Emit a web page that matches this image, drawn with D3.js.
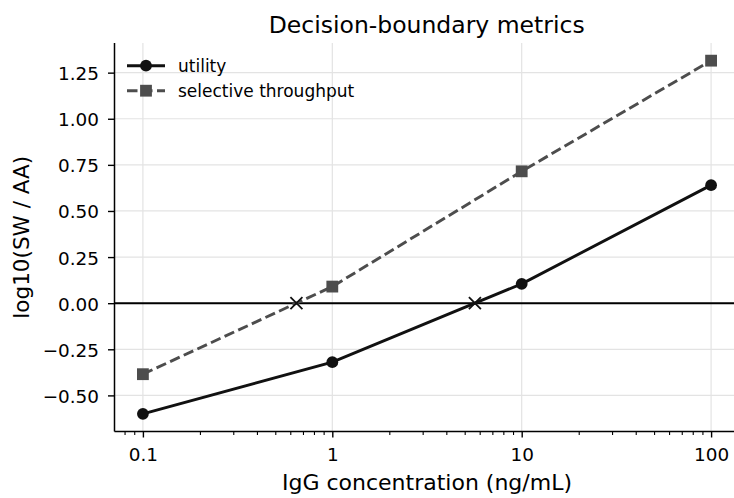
<!DOCTYPE html>
<html>
<head>
<meta charset="utf-8">
<script src="https://cdn.jsdelivr.net/npm/d3@7"></script>
<style>
  html, body { margin: 0; padding: 0; background: #fff; }
  svg { display: block; font-family: "DejaVu Sans", sans-serif; }
</style>
</head>
<body>
<svg id="chart" width="734" height="498"></svg>
<script>
// IgG concentrations (ng/mL) and log10(SW / AA) for each metric
const concentrations = [0.1, 1, 10, 100];
const utility = [-0.60, -0.32, 0.105, 0.64];
const selectiveThroughput = [-0.385, 0.09, 0.715, 1.315];
const seriesNames = ["utility", "selective throughput"];
const xTickValues = [0.1, 1, 10, 100];
const xTickLabels = ["0.1", "1", "10", "100"];
const yTickValues = [-0.5, -0.25, 0, 0.25, 0.5, 0.75, 1.0, 1.25];

const svg = d3.select("#chart");
const plot = { left: 114.5, right: 739.5, top: 43, bottom: 431.5 };

// log-x with 5% padding in decades, linear y with 5% padding
const lx = concentrations.map(Math.log10);
const lxMin = d3.min(lx), lxMax = d3.max(lx), lxPad = (lxMax - lxMin) * 0.05;
const x = d3.scaleLog()
  .domain([Math.pow(10, lxMin - lxPad), Math.pow(10, lxMax + lxPad)])
  .range([plot.left, plot.right]);

const allY = utility.concat(selectiveThroughput);
const yMin = d3.min(allY), yMax = d3.max(allY), yPad = (yMax - yMin) * 0.05;
const y = d3.scaleLinear()
  .domain([yMin - yPad, yMax + yPad])
  .range([plot.bottom, plot.top]);

const minusFmt = v => d3.format(".2f")(v).replace("-", "\u2212");

// grid
const grid = svg.append("g").attr("class", "grid");
grid.selectAll("line.gx").data(xTickValues).join("line")
  .attr("x1", d => x(d)).attr("x2", d => x(d))
  .attr("y1", plot.top).attr("y2", plot.bottom)
  .attr("stroke", "#e3e3e3").attr("stroke-width", 1.2);
grid.selectAll("line.gy").data(yTickValues).join("line")
  .attr("x1", plot.left).attr("x2", plot.right)
  .attr("y1", d => y(d)).attr("y2", d => y(d))
  .attr("stroke", "#e3e3e3").attr("stroke-width", 1.2);

// zero reference line
svg.append("line")
  .attr("x1", plot.left).attr("x2", plot.right)
  .attr("y1", y(0)).attr("y2", y(0))
  .attr("stroke", "#000").attr("stroke-width", 1.9);

// minor ticks for the log axis
const [d0, d1] = x.domain();
const minorTicks = [];
for (let e = Math.floor(Math.log10(d0)); e <= Math.ceil(Math.log10(d1)); e++) {
  for (let m = 2; m <= 9; m++) {
    const v = m * Math.pow(10, e);
    if (v >= d0 && v <= d1) minorTicks.push(v);
  }
}

const xAxis = svg.append("g").attr("transform", `translate(0,${plot.bottom})`)
  .call(d3.axisBottom(x).tickValues(xTickValues)
    .tickFormat((d, i) => xTickLabels[i]).tickSize(6).tickPadding(10));
const xMinor = svg.append("g").attr("transform", `translate(0,${plot.bottom})`)
  .call(d3.axisBottom(x).tickValues(minorTicks).tickFormat("").tickSize(3.5));
xMinor.select(".domain").remove();
xMinor.selectAll("line").attr("stroke", "#000").attr("stroke-width", 1.1);

const yAxis = svg.append("g").attr("transform", `translate(${plot.left},0)`)
  .call(d3.axisLeft(y).tickValues(yTickValues).tickFormat(minusFmt)
    .tickSize(6.5).tickPadding(9));
yAxis.selectAll(".tick text").attr("dy", "0.38em");

[xAxis, yAxis].forEach(g => {
  g.select(".domain").remove();
  g.selectAll(".tick line").attr("stroke", "#000").attr("stroke-width", 1.4);
  g.selectAll(".tick text").attr("fill", "#000")
    .style("font-size", "18.4px").style("font-family", "DejaVu Sans");
});
svg.append("line").attr("x1", plot.left).attr("x2", plot.right)
  .attr("y1", plot.bottom).attr("y2", plot.bottom)
  .attr("stroke", "#000").attr("stroke-width", 1.5);
svg.append("line").attr("x1", plot.left).attr("x2", plot.left)
  .attr("y1", plot.top).attr("y2", plot.bottom)
  .attr("stroke", "#000").attr("stroke-width", 1.5);

// series
const styles = [
  { values: utility, color: "#111111", dash: null, marker: "circle" },
  { values: selectiveThroughput, color: "#4d4d4d", dash: "10.5,4.5", marker: "square" }
];
const line = d3.line().x(d => x(d[0])).y(d => y(d[1]));
const mr = 5.9;

styles.forEach(s => {
  const pts = concentrations.map((c, i) => [c, s.values[i]]);
  svg.append("path").datum(pts)
    .attr("d", line).attr("fill", "none")
    .attr("stroke", s.color).attr("stroke-width", 2.9)
    .attr("stroke-dasharray", s.dash);
  if (s.marker === "circle") {
    svg.selectAll(null).data(pts).join("circle")
      .attr("cx", d => x(d[0])).attr("cy", d => y(d[1])).attr("r", mr)
      .attr("fill", s.color);
  } else {
    svg.selectAll(null).data(pts).join("rect")
      .attr("x", d => x(d[0]) - mr).attr("y", d => y(d[1]) - mr)
      .attr("width", 2 * mr).attr("height", 2 * mr)
      .attr("fill", s.color);
  }
});

// zero crossings, interpolated linearly in log10 concentration
function zeroCrossings(vals) {
  const out = [];
  for (let i = 0; i < vals.length - 1; i++) {
    const a = vals[i], b = vals[i + 1];
    if ((a < 0 && b >= 0) || (a > 0 && b <= 0)) {
      const t = -a / (b - a);
      const l0 = Math.log10(concentrations[i]), l1 = Math.log10(concentrations[i + 1]);
      out.push(Math.pow(10, l0 + t * (l1 - l0)));
    }
  }
  return out;
}
const crossings = zeroCrossings(selectiveThroughput).concat(zeroCrossings(utility));
const xs = 6;
svg.selectAll(null).data(crossings).join("path")
  .attr("d", d => {
    const cx = x(d), cy = y(0);
    return `M${cx - xs},${cy - xs}L${cx + xs},${cy + xs}M${cx - xs},${cy + xs}L${cx + xs},${cy - xs}`;
  })
  .attr("stroke", "#111").attr("stroke-width", 1.8).attr("fill", "none");

// legend
const legend = svg.append("g");
styles.forEach((s, i) => {
  const ly = 65.7 + i * 25;
  legend.append("line").attr("x1", 127).attr("x2", 165)
    .attr("y1", ly).attr("y2", ly)
    .attr("stroke", s.color).attr("stroke-width", 2.9)
    .attr("stroke-dasharray", s.dash);
  if (s.marker === "circle") {
    legend.append("circle").attr("cx", 146).attr("cy", ly).attr("r", mr).attr("fill", s.color);
  } else {
    legend.append("rect").attr("x", 146 - mr).attr("y", ly - mr)
      .attr("width", 2 * mr).attr("height", 2 * mr).attr("fill", s.color);
  }
  legend.append("text").attr("x", 178).attr("y", ly).attr("dy", "0.36em")
    .style("font-size", "17px").attr("fill", "#000").text(seriesNames[i]);
});

// title and axis labels
svg.append("text").attr("x", 426.7).attr("y", 32.5)
  .attr("text-anchor", "middle").style("font-size", "23.5px")
  .text("Decision-boundary metrics");
svg.append("text").attr("x", 427).attr("y", 490)
  .attr("text-anchor", "middle").style("font-size", "22px")
  .text("IgG concentration (ng/mL)");
svg.append("text")
  .attr("transform", `translate(28.5,${(plot.top + plot.bottom) / 2}) rotate(-90)`)
  .attr("text-anchor", "middle").style("font-size", "21.5px")
  .text("log10(SW / AA)");
</script>
</body>
</html>
